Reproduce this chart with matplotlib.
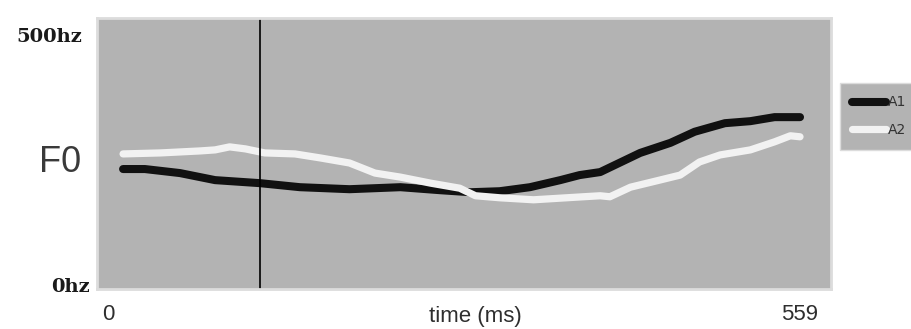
import matplotlib.pyplot as plt
from matplotlib.transforms import blended_transform_factory

# F0 contours (time in ms, frequency in Hz)
a1_t = [0, 18, 47, 76, 113, 146, 187, 229, 262, 287, 311, 336, 361, 377, 394,
        427, 452, 472, 497, 518, 538, 559]
a1_f = [238, 238, 230, 216, 210, 202, 198, 202, 196, 192, 194, 202, 216, 226, 232,
        270, 290, 312, 329, 333, 341, 341]

a2_t = [0, 31, 64, 76, 88, 101, 117, 142, 163, 187, 208, 229, 254, 278, 291, 311,
        339, 380, 394, 402, 419, 443, 460, 476, 493, 518, 538, 551, 559]
a2_f = [268, 270, 274, 276, 282, 278, 270, 268, 260, 250, 230, 222, 210, 200, 185, 181,
        177, 183, 185, 183, 202, 216, 226, 252, 266, 276, 292, 304, 302]

marker_t = 113          # vertical reference line (ms)
x_ticks = [0, 559]
y_ticks = [0, 500]
y_labels = ['0hz', '500hz']

fig = plt.figure(figsize=(9.12, 3.29), dpi=100)
ax = fig.add_axes([0.1064, 0.1216, 0.8048, 0.8237])
ax.set_facecolor('#b3b3b3')

ax.plot(a1_t, a1_f, color='#111111', lw=5.8, solid_capstyle='round', label='A1')
ax.plot(a2_t, a2_f, color='#f2f2f2', lw=5.2, solid_capstyle='round', label='A2')
ax.axvline(marker_t, color='black', lw=1.2)

ax.set_xlim(-21.5, 584.6)
ax.set_ylim(0, 537.7)
ax.set_xticks([])
ax.set_yticks([])
for sp in ax.spines.values():
    sp.set_color('#dcdcdc')
    sp.set_linewidth(2)

# axis annotations
ytr = blended_transform_factory(ax.transAxes, ax.transData)
ax.text(-0.01, y_ticks[0] + 4, y_labels[0], transform=ytr, ha='right', va='center',
        family='DejaVu Serif', weight='bold', fontsize=14, color='#1a1a1a')
ax.text(-0.02, y_ticks[1], y_labels[1], transform=ytr, ha='right', va='center',
        family='DejaVu Serif', weight='bold', fontsize=14, color='#1a1a1a')
ax.text(-0.05, 0.465, 'F0', transform=ax.transAxes, ha='center', va='center',
        family='Liberation Sans', fontsize=26, color='#3a3a3a')

xtr = blended_transform_factory(ax.transData, fig.transFigure)
ax.text(x_ticks[0] - 12, 0.045, str(x_ticks[0]), transform=xtr, ha='center', va='center',
        family='Liberation Sans', fontsize=16, color='#2e2e2e')
ax.text(x_ticks[1], 0.045, str(x_ticks[1]), transform=xtr, ha='center', va='center',
        family='Liberation Sans', fontsize=16, color='#2e2e2e')
fig.text(0.521, 0.038, 'time (ms)', ha='center', va='center',
         family='Liberation Sans', fontsize=16, color='#2e2e2e')

leg = fig.legend(loc='upper left', bbox_to_anchor=(0.921, 0.748),
                 bbox_transform=fig.transFigure, frameon=True, fancybox=False,
                 facecolor='#b3b3b3', edgecolor='#dcdcdc', framealpha=1,
                 fontsize=10, handlelength=2.4, handletextpad=0.15,
                 borderpad=0.9, labelspacing=1.0, borderaxespad=0)
for t in leg.get_texts():
    t.set_color('#333333')

fig.savefig('out.png', dpi=100)
